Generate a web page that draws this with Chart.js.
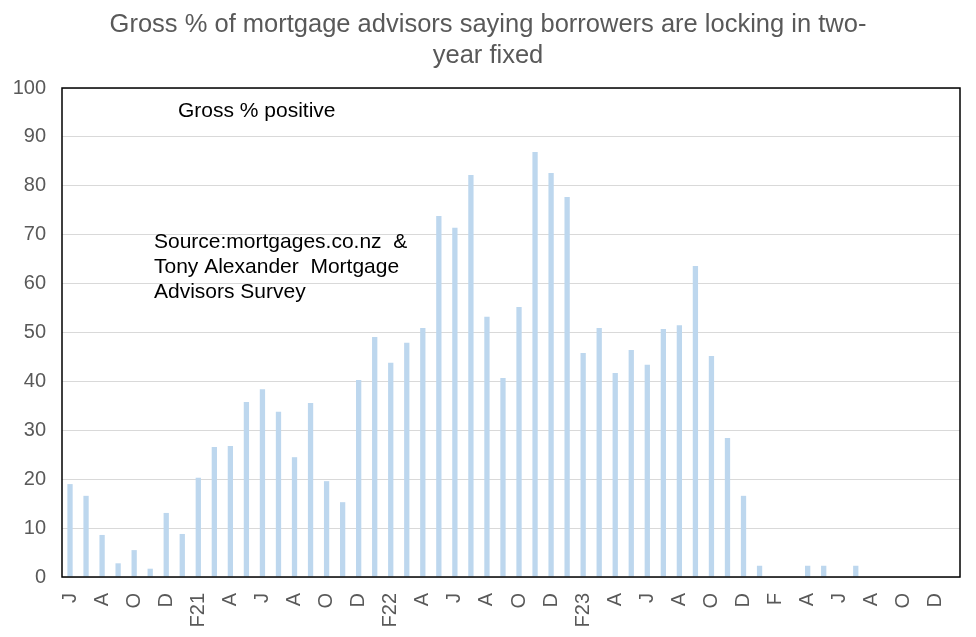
<!DOCTYPE html>
<html>
<head>
<meta charset="utf-8">
<script src="https://cdn.jsdelivr.net/npm/chart.js@4"></script>
<style>
  html, body { margin: 0; padding: 0; background: #fff; }
  #wrap { width: 976px; height: 637px; }
</style>
</head>
<body>
<div id="wrap"><canvas id="myChart" width="976" height="637"></canvas></div>
<script>
// months, Jun 2020 to Jan 2025
const months = [
  'Jun-20','Jul-20','Aug-20','Sep-20','Oct-20','Nov-20','Dec-20',
  'Jan-21','Feb-21','Mar-21','Apr-21','May-21','Jun-21','Jul-21','Aug-21','Sep-21','Oct-21','Nov-21','Dec-21',
  'Jan-22','Feb-22','Mar-22','Apr-22','May-22','Jun-22','Jul-22','Aug-22','Sep-22','Oct-22','Nov-22','Dec-22',
  'Jan-23','Feb-23','Mar-23','Apr-23','May-23','Jun-23','Jul-23','Aug-23','Sep-23','Oct-23','Nov-23','Dec-23',
  'Jan-24','Feb-24','Mar-24','Apr-24','May-24','Jun-24','Jul-24','Aug-24','Sep-24','Oct-24','Nov-24','Dec-24',
  'Jan-25'
];

// one label every second month
const tickLabels = [
  'J','A','O','D','F21','A','J','A','O','D','F22','A','J','A','O','D',
  'F23','A','J','A','O','D','F','A','J','A','O','D'
];

const grossPositive = [
  19.0, 16.6, 8.6, 2.8, 5.5, 1.7, 13.1,
  8.8, 20.3, 26.6, 26.8, 35.8, 38.4, 33.8, 24.5, 35.6, 19.6, 15.3, 40.3,
  49.1, 43.8, 47.9, 50.9, 73.8, 71.4, 82.2, 53.2, 40.7, 55.2, 86.9, 82.6,
  77.7, 45.8, 50.9, 41.7, 46.4, 43.4, 50.7, 51.5, 63.6, 45.2, 28.4, 16.6,
  2.3, 0, 0, 2.3, 2.3, 0, 2.3, 0, 0, 0, 0, 0,
  0
];

const yTicks = [0, 10, 20, 30, 40, 50, 60, 70, 80, 90, 100];

const titleLines = ['Gross % of mortgage advisors saying borrowers are locking in two-', 'year fixed'];
const noteTop = 'Gross % positive';
const noteSource = ['Source:mortgages.co.nz  &', 'Tony Alexander  Mortgage', 'Advisors Survey'];

// frame round the plot area, title and the text notes
const extras = {
  id: 'extras',
  afterDraw(chart) {
    const c = chart.ctx, a = chart.chartArea;
    c.save();
    c.strokeStyle = '#000';
    c.lineWidth = 1.5;
    c.strokeRect(a.left, a.top, a.right - a.left, a.bottom - a.top);

    c.fillStyle = '#595959';
    c.font = '25.5px "Liberation Sans", Arial, sans-serif';
    c.textAlign = 'center';
    c.textBaseline = 'middle';
    c.fillText(titleLines[0], 488, 25);
    c.fillText(titleLines[1], 488, 56);

    c.fillStyle = '#000';
    c.font = '21px "Liberation Sans", Arial, sans-serif';
    c.textAlign = 'left';
    c.fillText(noteTop, a.left + 116, a.top + 23);
    noteSource.forEach((t, i) => c.fillText(t, a.left + 92, a.top + 154 + i * 25));
    c.restore();
  }
};

const ctx = document.getElementById('myChart').getContext('2d');
const myChart = new Chart(ctx, {
  type: 'bar',
  data: {
    labels: months,
    datasets: [{
      label: 'Gross % positive',
      data: grossPositive,
      backgroundColor: '#BDD7EE',
      borderWidth: 0,
      categoryPercentage: 1,
      barPercentage: 0.33
    }]
  },
  options: {
    responsive: false,
    animation: false,
    layout: { padding: { top: 88, right: 16, left: 0, bottom: 0 } },
    plugins: { legend: { display: false }, tooltip: { enabled: false } },
    scales: {
      x: {
        grid: { display: false },
        border: { display: false },
        ticks: {
          autoSkip: false,
          minRotation: 90,
          maxRotation: 90,
          padding: 8,
          color: '#595959',
          font: { family: '"Liberation Sans", Arial, sans-serif', size: 20 },
          callback: (v, i) => (i % 2 === 0 ? tickLabels[i / 2] : '')
        },
        afterFit: s => { s.height = 60; s.paddingLeft = 0; s.paddingRight = 0; }
      },
      y: {
        min: 0,
        max: 100,
        afterBuildTicks: s => { s.ticks = yTicks.map(v => ({ value: v })); },
        grid: { color: '#D9D9D9', lineWidth: 1, drawTicks: false },
        border: { display: false },
        ticks: {
          padding: 16,
          color: '#595959',
          font: { family: '"Liberation Sans", Arial, sans-serif', size: 20 }
        },
        afterFit: s => { s.width = 62; }
      }
    }
  },
  plugins: [extras]
});
</script>
</body>
</html>
